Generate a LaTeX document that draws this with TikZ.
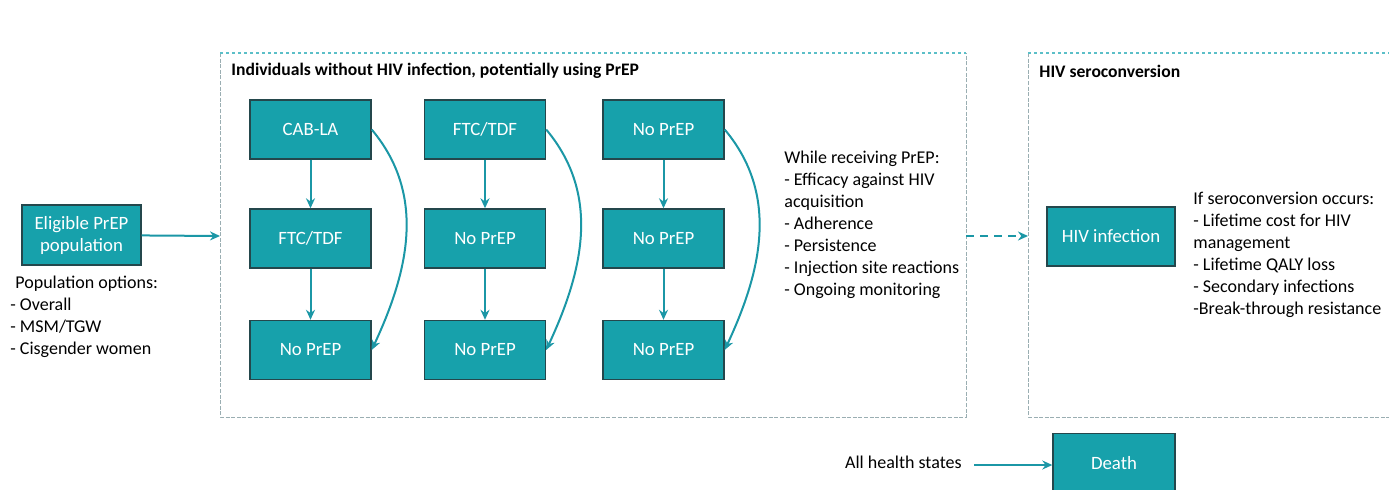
\documentclass[tikz,border=0pt]{standalone}
\usepackage{fontspec}
\setmainfont{Carlito}
\usetikzlibrary{arrows.meta}

\definecolor{statefill}{HTML}{17A1AB}
\definecolor{stateline}{HTML}{24474C}
\definecolor{arrowcol}{HTML}{1B97A6}
\definecolor{framecol}{HTML}{5BBFC8}
\definecolor{sidecol}{HTML}{9AAEB2}

\tikzset{
  state/.style={draw=stateline, fill=statefill, text=white, line width=0.7pt,
    minimum width=60.5pt, minimum height=29.5pt, inner sep=0pt, align=center,
    font=\fontsize{9.4}{11}\selectfont},
  arr/.style={-{Stealth[length=5pt,width=4.5pt]}, draw=arrowcol, line width=1pt},
  note/.style={anchor=north west, align=left, inner sep=0pt,
    font=\fontsize{9}{11}\selectfont},
  boxtitle/.style={anchor=west, inner sep=0pt, font=\fontsize{8.8}{10}\selectfont\bfseries},
  frametop/.style={draw=framecol, line width=0.7pt, dash pattern=on 1.6pt off 1.4pt},
  frameside/.style={draw=sidecol, line width=0.5pt, dash pattern=on 2pt off 0.8pt},
}

\begin{document}
\begin{tikzpicture}[x=0.5pt,y=-0.5pt]
    \useasboundingbox (0,0) rectangle (1389,489);
    \clip (0,0) rectangle (1389,489);

    % dashed frames
    \draw[frameside] (220,53) -- (220,417) -- (966,417) -- (966,53);
    \draw[frametop] (220,53) -- (966,53);
    \draw[frameside] (1028,53) -- (1028,417) -- (1400,417);
    \draw[frametop] (1028,53) -- (1400,53);
    \node[boxtitle] (T1) at (231,71) {Individuals without HIV infection, potentially using PrEP};
    \node[boxtitle] (T2) at (1039,71) {HIV seroconversion};

    \coordinate (in1) at (220,236);
    \coordinate (out1) at (966,236);
    \coordinate (in2) at (1028,236);

    \node[state, minimum width=59.5pt, minimum height=30pt] (E) at (81.5,235) {Eligible PrEP\\population};
    \node[note] (Eopt) at (10,276) {\hspace{2.5pt}Population options:\\- Overall\\- MSM/TGW\\- Cisgender women};

    \node[state] (A1) at (310.5,129.5) {CAB-LA};
    \node[state] (A2) at (310.5,238.5) {FTC/TDF};
    \node[state] (A3) at (310.5,350) {No PrEP};
    \node[state] (B1) at (485,129.5) {FTC/TDF};
    \node[state] (B2) at (485,238.5) {No PrEP};
    \node[state] (B3) at (485,350) {No PrEP};
    \node[state] (C1) at (663.5,129.5) {No PrEP};
    \node[state] (C2) at (663.5,238.5) {No PrEP};
    \node[state] (C3) at (663.5,350) {No PrEP};

    \node[note] (P) at (784,151) {While receiving PrEP:\\- Efficacy against HIV\\acquisition\\- Adherence\\- Persistence\\- Injection site reactions\\- Ongoing monitoring};

    \node[state, minimum width=64pt] (H) at (1111,236.5) {HIV infection};
    \node[note] (S) at (1193,192) {If seroconversion occurs:\\- Lifetime cost for HIV\\management\\- Lifetime QALY loss\\- Secondary infections\\-Break-through resistance};

    \node[anchor=east, inner sep=0pt, font=\fontsize{9}{11}\selectfont] (All) at (962,462) {All health states};
    \node[state, minimum width=61pt] (D) at (1114,463) {Death};

    \path (E) edge[arr] (in1);
    \path (out1) edge[arr, line width=1.2pt, dash pattern=on 4pt off 3pt] (in2);
    \path (All.east) ++(12,3) coordinate (all0) edge[arr] (D.west |- all0);

    \path (A1) edge[arr] (A2);
    \path (A2) edge[arr] (A3);
    \path (B1) edge[arr] (B2);
    \path (B2) edge[arr] (B3);
    \path (C1) edge[arr] (C2);
    \path (C2) edge[arr] (C3);

    \path (A1.east) edge[arr, out=-50, in=65] (A3.east);
    \path (B1.east) edge[arr, out=-50, in=65] (B3.east);
    \path (C1.east) edge[arr, out=-50, in=65] (C3.east);
\end{tikzpicture}
\end{document}
